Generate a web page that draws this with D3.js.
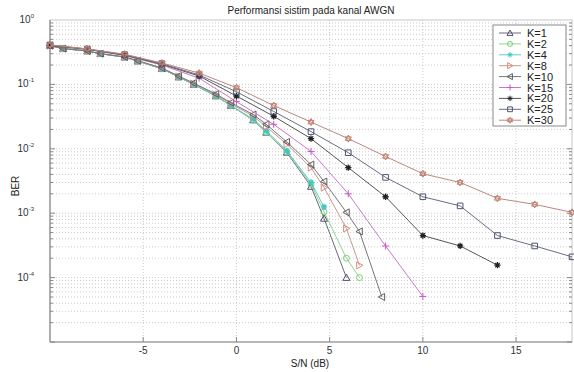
<!DOCTYPE html>
<html>
<head>
<meta charset="utf-8">
<script src="https://cdn.jsdelivr.net/npm/d3@7"></script>
<style>
  body { margin: 0; background: #fff; }
  svg { font-family: "Liberation Sans", Arial, sans-serif; }
</style>
</head>
<body>
<svg id="chart"></svg>
<script>
// S/N grids
const xSmall = [-10, -9.3, -8, -7.3, -6, -5.3, -4, -3.1, -2.3, -1.1, -0.3, 0.9, 1.6, 2.7, 4.0, 4.7, 5.9, 6.6, 7.8];
const xLarge = [-10, -8, -6, -4, -2, 0, 2, 4, 6, 8, 10, 12, 14, 16, 18];

// BER values per K (small-K curves use xSmall, large-K curves use xLarge)
const berK1  = [0.40, 0.36, 0.33, 0.30, 0.265, 0.23, 0.175, 0.13, 0.10, 0.066, 0.047, 0.028, 0.018, 0.0088, 0.0026, 0.00083, 0.0001];
const berK2  = [0.40, 0.36, 0.33, 0.30, 0.265, 0.23, 0.175, 0.13, 0.10, 0.066, 0.047, 0.028, 0.018, 0.0090, 0.0028, 0.00105, 0.0002, 0.0001];
const berK4  = [0.40, 0.36, 0.33, 0.30, 0.265, 0.23, 0.175, 0.13, 0.10, 0.066, 0.047, 0.029, 0.019, 0.0093, 0.0030, 0.00125];
const berK8  = [0.40, 0.36, 0.33, 0.30, 0.266, 0.232, 0.178, 0.133, 0.103, 0.069, 0.050, 0.032, 0.022, 0.0118, 0.0051, 0.0025, 0.00058, 0.000155];
const berK10 = [0.40, 0.36, 0.33, 0.30, 0.267, 0.234, 0.18, 0.135, 0.105, 0.071, 0.052, 0.034, 0.024, 0.0128, 0.0057, 0.0031, 0.00103, 0.00052, 0.00005];
const berK15 = [0.40, 0.35, 0.28, 0.20, 0.125, 0.054, 0.024, 0.0091, 0.0020, 0.00031, 0.000051];
const berK20 = [0.40, 0.35, 0.285, 0.205, 0.135, 0.066, 0.032, 0.0144, 0.0051, 0.0018, 0.00045, 0.00031, 0.000156];
const berK25 = [0.41, 0.355, 0.29, 0.21, 0.14, 0.077, 0.038, 0.0185, 0.0087, 0.0036, 0.0018, 0.0013, 0.00045, 0.00031, 0.00021];
const berK30 = [0.41, 0.355, 0.295, 0.215, 0.15, 0.089, 0.047, 0.026, 0.0144, 0.0076, 0.0041, 0.0030, 0.0017, 0.00137, 0.00103];

const seriesNames = ['K=1', 'K=2', 'K=4', 'K=8', 'K=10', 'K=15', 'K=20', 'K=25', 'K=30'];
const seriesBer = [berK1, berK2, berK4, berK8, berK10, berK15, berK20, berK25, berK30];
const seriesX = [xSmall, xSmall, xSmall, xSmall, xSmall, xLarge, xLarge, xLarge, xLarge];
const seriesColor = ['#4e4f6e', '#78d078', '#3fc6c8', '#d98a80', '#5e5e5e', '#c858c8', '#222222', '#4f5673', '#c27f70'];
const lineColor = ['#6a6a7e', '#8fd68f', '#5ccbcc', '#c89890', '#777777', '#c87ac8', '#555555', '#6a6e80', '#b88a80'];
const seriesMarker = ['triUp', 'circle', 'asterisk', 'triRight', 'triLeft', 'plus', 'asterisk', 'square', 'hexagram'];

const xTicks = [-5, 0, 5, 10, 15];
const yDecades = [0, -1, -2, -3, -4];

const W = 574, H = 372;
const margin = { top: 20, right: 2, bottom: 30, left: 50 };

const svg = d3.select('#chart').attr('width', W).attr('height', H);

const x = d3.scaleLinear().domain([-10, 18]).range([margin.left, W - margin.right]);
const y = d3.scaleLog().domain([1e-5, 1]).range([H - margin.bottom, margin.top]);

// grid
const grid = svg.append('g').attr('stroke', '#b4b4b4').attr('stroke-width', 0.7).attr('stroke-dasharray', '1,2');
xTicks.forEach(t => {
  grid.append('line').attr('x1', x(t)).attr('x2', x(t)).attr('y1', y(1)).attr('y2', y(1e-5));
});
const minorVals = [];
for (let e = -5; e < 0; e++) {
  for (let m = 1; m < 10; m++) minorVals.push(m * Math.pow(10, e));
}
minorVals.forEach(v => {
  if (v <= 1e-5) return;
  grid.append('line').attr('x1', x(-10)).attr('x2', x(18)).attr('y1', y(v)).attr('y2', y(v));
});

// axes box
const box = svg.append('g').attr('stroke', '#8a8a8a').attr('fill', 'none');
box.append('rect').attr('x', x(-10)).attr('y', y(1)).attr('width', x(18) - x(-10)).attr('height', y(1e-5) - y(1)).attr('stroke', '#c8c8c8');
box.append('line').attr('x1', x(-10)).attr('x2', x(-10)).attr('y1', y(1)).attr('y2', y(1e-5)).attr('stroke-width', 1.2);
box.append('line').attr('x1', x(-10)).attr('x2', x(18)).attr('y1', y(1e-5)).attr('y2', y(1e-5)).attr('stroke-width', 1.2);

// tick marks
xTicks.forEach(t => {
  box.append('line').attr('x1', x(t)).attr('x2', x(t)).attr('y1', y(1e-5)).attr('y2', y(1e-5) - 5);
});
minorVals.forEach(v => {
  const len = Math.abs(Math.log10(v) - Math.round(Math.log10(v))) < 1e-9 ? 5 : 3;
  box.append('line').attr('x1', x(-10)).attr('x2', x(-10) + len).attr('y1', y(v)).attr('y2', y(v));
  box.append('line').attr('x1', x(18)).attr('x2', x(18) - len).attr('y1', y(v)).attr('y2', y(v));
});

// tick labels
svg.append('g').selectAll('text').data(xTicks).join('text')
  .attr('x', d => x(d)).attr('y', y(1e-5) + 12)
  .attr('text-anchor', 'middle').attr('font-size', 10).attr('fill', '#333')
  .text(d => d);

const yl = svg.append('g').selectAll('text').data(yDecades).join('text')
  .attr('x', x(-10) - 16).attr('y', d => y(Math.pow(10, d)) + 3)
  .attr('text-anchor', 'end').attr('font-size', 10).attr('fill', '#333');
yl.append('tspan').text('10');
yl.append('tspan').attr('dy', -5).attr('font-size', 6).text(d => d);

// titles
svg.append('text').attr('x', (x(-10) + x(18)) / 2).attr('y', 14).attr('text-anchor', 'middle')
  .attr('font-size', 10).attr('fill', '#222').text('Performansi sistim pada kanal AWGN');
svg.append('text').attr('x', 310).attr('y', 367).attr('text-anchor', 'middle')
  .attr('font-size', 10).attr('fill', '#222').text('S/N (dB)');
svg.append('text').attr('transform', 'translate(19,186) rotate(-90)')
  .attr('text-anchor', 'middle').attr('font-size', 10).attr('fill', '#222').text('BER');

// marker shapes
function markerPath(type, s) {
  const h = s / 2;
  switch (type) {
    case 'triUp': return `M0,${-h}L${h},${h * 0.8}L${-h},${h * 0.8}Z`;
    case 'triRight': return `M${h},0L${-h * 0.8},${h}L${-h * 0.8},${-h}Z`;
    case 'triLeft': return `M${-h},0L${h * 0.8},${h}L${h * 0.8},${-h}Z`;
    case 'square': return `M${-h * 0.8},${-h * 0.8}h${h * 1.6}v${h * 1.6}h${-h * 1.6}Z`;
    case 'plus': return `M${-h},0H${h}M0,${-h}V${h}`;
    case 'circle': return d3.arc()({ innerRadius: 0, outerRadius: h * 0.85, startAngle: 0, endAngle: 2 * Math.PI });
    case 'asterisk': {
      const a = h * 0.9, b = a * 0.7;
      return `M${-a},0H${a}M0,${-a}V${a}M${-b},${-b}L${b},${b}M${-b},${b}L${b},${-b}`;
    }
    case 'hexagram': {
      const p1 = d3.range(3).map(i => [h * Math.sin(i * 2 * Math.PI / 3), -h * Math.cos(i * 2 * Math.PI / 3)]);
      const p2 = d3.range(3).map(i => [-h * Math.sin(i * 2 * Math.PI / 3), h * Math.cos(i * 2 * Math.PI / 3)]);
      return 'M' + p1.join('L') + 'ZM' + p2.join('L') + 'Z';
    }
  }
  return '';
}

const line = d3.line().x(d => x(d[0])).y(d => y(d[1]));

const plot = svg.append('g');
seriesNames.forEach((name, i) => {
  const pts = seriesBer[i].map((v, j) => [seriesX[i][j], v]);
  const g = plot.append('g');
  g.append('path').datum(pts).attr('d', line).attr('fill', 'none')
    .attr('stroke', lineColor[i]).attr('stroke-width', 1);
  g.selectAll('path.m').data(pts).join('path').attr('class', 'm')
    .attr('transform', d => `translate(${x(d[0])},${y(d[1])})`)
    .attr('d', markerPath(seriesMarker[i], 7))
    .attr('fill', 'none').attr('stroke', seriesColor[i])
    .attr('stroke-width', seriesMarker[i] === 'asterisk' ? 1.3 : 1);
});

// legend
const lg = svg.append('g').attr('transform', 'translate(493,25)');
lg.append('rect').attr('width', 73).attr('height', 101).attr('fill', '#fff').attr('stroke', '#8a8a8a');
seriesNames.forEach((name, i) => {
  const yy = 8 + i * 10.9;
  lg.append('line').attr('x1', 6).attr('x2', 28).attr('y1', yy).attr('y2', yy)
    .attr('stroke', lineColor[i]).attr('stroke-width', 1);
  lg.append('path').attr('transform', `translate(17,${yy})`).attr('d', markerPath(seriesMarker[i], 6))
    .attr('fill', 'none').attr('stroke', seriesColor[i]);
  lg.append('text').attr('x', 34).attr('y', yy + 4).attr('font-size', 11).attr('fill', '#222').text(name);
});
</script>
</body>
</html>
